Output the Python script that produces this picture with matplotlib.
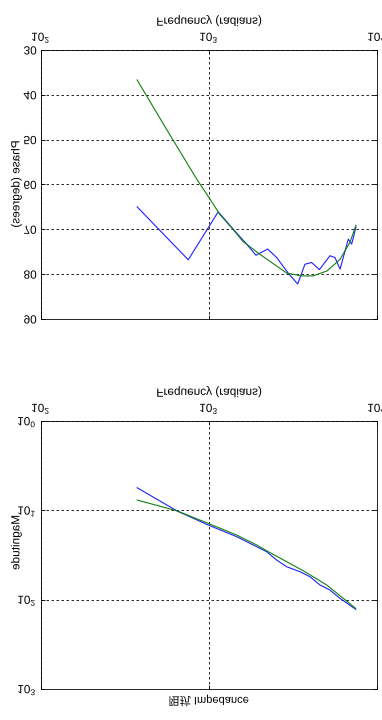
import numpy as np
import matplotlib
matplotlib.use('Agg')
import matplotlib.pyplot as plt
from matplotlib.patheffects import AbstractPathEffect
from matplotlib.transforms import Affine2D
from matplotlib.text import Text
from matplotlib.ticker import FixedLocator, NullLocator

plt.rcParams['font.family'] = ['Liberation Sans', 'Noto Sans CJK SC', 'DejaVu Sans']
plt.rcParams['mathtext.fontset'] = 'custom'
plt.rcParams['mathtext.rm'] = 'Liberation Sans'
plt.rcParams['mathtext.it'] = 'Liberation Sans'

# phase, measured (blue) and fitted (green)
phase_freq = [374, 753, 1135, 1396, 1675, 1905, 2234, 2529, 2965, 3373,
              3724, 4083, 4539, 5248, 5623, 6026, 6745, 7063, 7499]
phase_meas = [65.0, 76.8, 66.1, 70.0, 73.3, 75.8, 74.4, 76.3, 79.8, 82.2,
              77.8, 77.4, 79.0, 75.9, 76.3, 78.9, 72.2, 73.3, 69.5]
fit_freq = [374, 547, 849, 1000, 1161, 1390, 1592, 2014, 2911, 3581,
            4159, 5035, 6026, 6902, 7499]
phase_fit = [36.7, 47.1, 58.9, 62.9, 66.7, 70.0, 72.7, 75.6, 79.8, 80.4,
             80.4, 79.3, 76.7, 72.9, 69.1]

# magnitude, measured (blue) and fitted (green)
mag_freq = [374, 643, 991, 1462, 2203, 2529, 2904, 3483, 3990, 4581,
            5248, 6026, 7464]
mag_meas = [5.58, 10.1, 14.6, 19.7, 29.0, 36.0, 42.8, 48.6, 55.3, 68.5,
            78.0, 96.6, 128]
mfit_freq = [374, 643, 991, 1462, 1923, 2254, 3639, 5023, 7464]
mag_fit = [7.66, 10.1, 14.0, 18.9, 24.4, 29.0, 47.4, 68.5, 125]

phase_ticks = [30, 40, 50, 60, 70, 80, 90]
mag_ticks = [1, 10, 100, 1000]
freq_ticks = [100, 1000, 10000]


class VFlip(AbstractPathEffect):
    # mirror a text upside down about its own centre
    def draw_path(self, renderer, gc, tpath, affine, rgbFace=None):
        bb = tpath.get_extents(affine)
        cy = (bb.y0 + bb.y1) / 2
        flip = Affine2D().translate(0, -cy).scale(1, -1).translate(0, cy)
        renderer.draw_path(gc, tpath, affine + flip, rgbFace)


fig = plt.figure(figsize=(3.82, 7.2), dpi=100)
ax1 = fig.add_axes([0.107, 0.557, 0.880, 0.3736])
ax2 = fig.add_axes([0.107, 0.043, 0.880, 0.3722])

ax1.semilogx(phase_freq, phase_meas, color='#2020ff', lw=0.8)
ax1.semilogx(fit_freq, phase_fit, color='#108010', lw=0.8)
ax1.set_ylim(90, 30)
ax1.yaxis.set_major_locator(FixedLocator(phase_ticks))
ax1.set_ylabel('Phase (degrees)', fontsize=8.5)
ax1.yaxis.set_label_coords(-0.055, 0.5)

ax2.loglog(mag_freq, mag_meas, color='#2020ff', lw=0.8)
ax2.loglog(mfit_freq, mag_fit, color='#108010', lw=0.8)
ax2.set_ylim(1000, 1)
ax2.yaxis.set_major_locator(FixedLocator(mag_ticks))
ax2.yaxis.set_minor_locator(NullLocator())
ax2.set_ylabel('Magnitude', fontsize=8.5)
ax2.yaxis.set_label_coords(-0.055, 0.545)
ax2.text(0.5, -0.022, '阻抗 Impedance', transform=ax2.transAxes,
         ha='center', va='top', fontsize=8)

for ax in (ax1, ax2):
    ax.set_xlim(100, 10000)
    ax.xaxis.set_major_locator(FixedLocator(freq_ticks))
    ax.xaxis.set_minor_locator(NullLocator())
    ax.xaxis.tick_top()
    ax.xaxis.set_label_position('top')
    ax.set_xlabel('Frequency (radians)', fontsize=8.5, labelpad=5)
    ax.tick_params(direction='in', length=3, width=0.6, top=True, right=True,
                   bottom=True, labeltop=True, labelbottom=False,
                   labelsize=8.5, pad=3)
    ax.grid(True, which='major', color='k', ls=(0, (3, 3)), lw=0.6)
    for s in ax.spines.values():
        s.set_linewidth(0.6)

fig.canvas.draw()
for t in fig.findobj(Text):
    t.set_path_effects([VFlip()])

fig.savefig('out.png', dpi=100)
